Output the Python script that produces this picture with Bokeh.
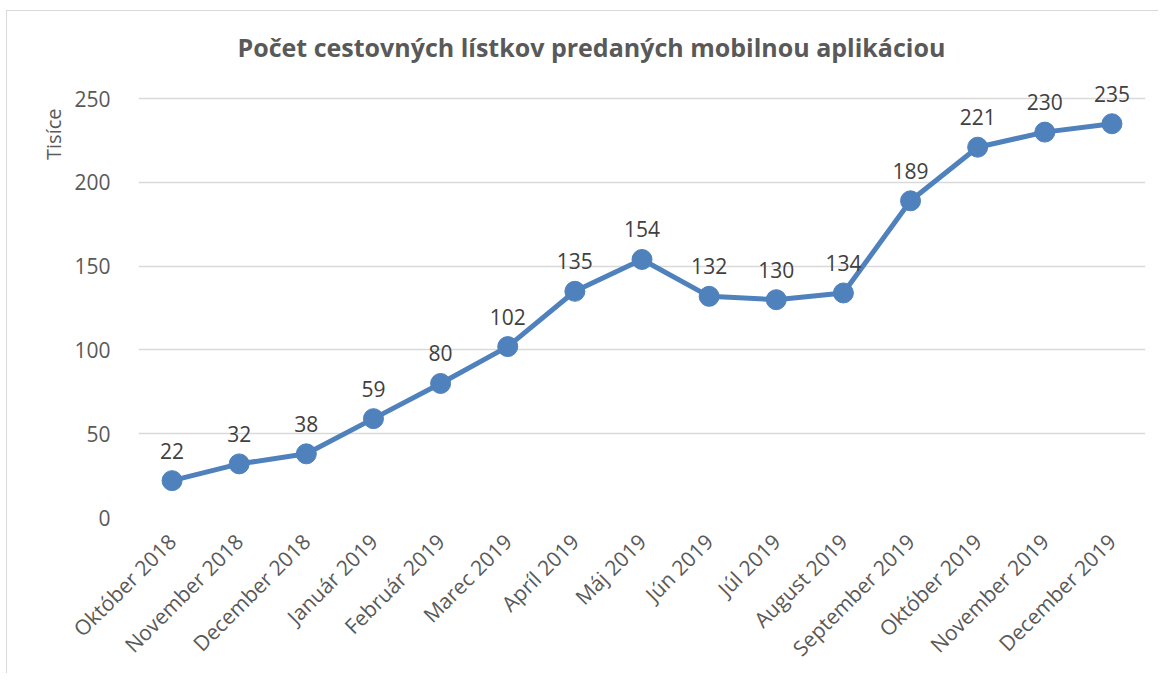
import math
from bokeh.plotting import figure
from bokeh.models import ColumnDataSource, Title, FixedTicker
from bokeh.core.properties import value
from bokeh.embed import file_html
from bokeh.resources import INLINE

months = ["Október 2018", "November 2018", "December 2018", "Január 2019", "Február 2019",
          "Marec 2019", "Apríl 2019", "Máj 2019", "Jún 2019", "Júl 2019", "August 2019",
          "September 2019", "Október 2019", "November 2019", "December 2019"]
tickets = [22, 32, 38, 59, 80, 102, 135, 154, 132, 130, 134, 189, 221, 230, 235]
y_ticks = [0, 50, 100, 150, 200, 250]
title_text = "Počet cestovných lístkov predaných mobilnou aplikáciou"
y_label = "Tisíce"

FONT = "Open Sans"
LINE = "#4F81BD"

src = ColumnDataSource(dict(x=months, y=tickets, lbl=[str(v) for v in tickets]))

p = figure(x_range=months, y_range=(0, 262), width=1152, height=663,
           output_backend="svg", toolbar_location=None,
           min_border_left=131, min_border_right=14, min_border_top=67, min_border_bottom=151)

p.title.text = title_text
p.title.align = "left"
p.title.offset = 99
p.title.standoff = 30
p.title.text_font = FONT
p.title.text_font_size = "25px"
p.title.text_font_style = "bold"
p.title.text_color = "#595959"

p.add_layout(Title(text=y_label, align="right", offset=30, standoff=10, text_font=FONT,
                   text_font_size="20px", text_font_style="normal", text_color="#595959"),
             "left")

p.outline_line_color = None
p.styles = {"margin-left": "6px", "margin-top": "10px",
            "border-left": "1px solid #D9D9D9", "border-top": "1px solid #D9D9D9"}

p.xgrid.grid_line_color = None
p.ygrid.grid_line_color = "#D9D9D9"
p.ygrid.grid_line_width = 1.5

p.yaxis.ticker = FixedTicker(ticks=y_ticks)
for ax in (p.xaxis[0], p.yaxis[0]):
    ax.axis_line_color = None
    ax.major_tick_line_color = None
    ax.minor_tick_line_color = None
    ax.major_label_text_font = FONT
    ax.major_label_text_font_size = "21px"
    ax.major_label_text_color = "#595959"
p.yaxis.major_label_standoff = 22
p.xaxis.major_label_standoff = 14
p.xaxis.major_label_orientation = math.pi / 4

p.line("x", "y", source=src, line_color=LINE, line_width=5)
p.scatter("x", "y", source=src, size=20, fill_color=LINE, line_color=LINE)
p.text("x", "y", text="lbl", source=src, text_font=value(FONT), text_font_size="21px",
       text_color="#404040", text_align="center", text_baseline="bottom", y_offset=-22)

open("out.html", "w").write(file_html(p, INLINE))
